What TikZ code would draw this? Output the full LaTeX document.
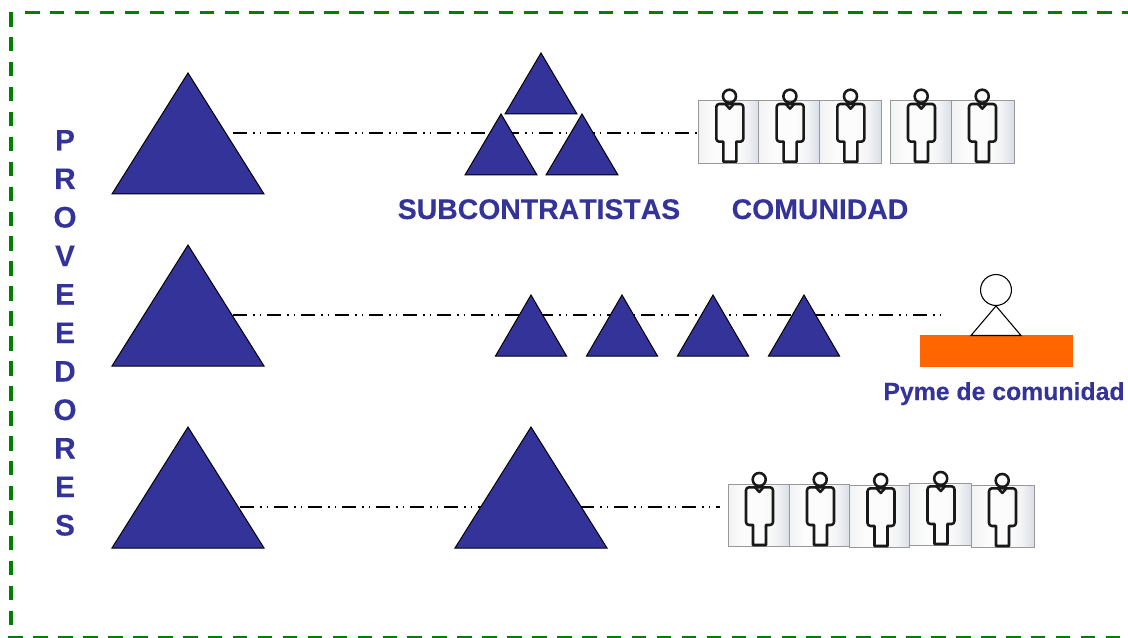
\documentclass[tikz,border=0pt]{standalone}
\usepackage{fontspec}
\setmainfont{Liberation Sans}
\newfontfamily\labelfont{Liberation Sans}[Kerning=Off,BoldFeatures={FakeBold=0.12}]
\definecolor{navy}{HTML}{333399}
\definecolor{pymeorange}{HTML}{FF6600}
\definecolor{framegreen}{HTML}{008000}
\definecolor{cardl}{HTML}{F1F2F3}
\definecolor{cardm}{HTML}{FCFCFC}
\definecolor{cardr2}{HTML}{F2F3F5}
\definecolor{cardr}{HTML}{DADEE6}
\pgfdeclarehorizontalshading{cardshade}{100bp}{
  color(0bp)=(cardl); color(25bp)=(cardl); color(38bp)=(cardm); color(55bp)=(cardm); color(65bp)=(cardr2); color(75bp)=(cardr); color(100bp)=(cardr)}
\tikzset{
  frameline/.style={framegreen,line width=2.4pt,dash pattern=on 10.9pt off 7.805pt},
  tribox/.style={fill=navy,draw=black,line width=0.75pt,line join=miter},
  link/.style={black,line width=1pt,dash pattern=on 10.5pt off 4.3pt on 1.4pt off 3.7pt on 1.4pt off 4.2pt},
  label/.style={text=navy,font=\labelfont\bfseries\fontsize{21.3}{24}\selectfont,anchor=base,inner sep=0pt},
  letter/.style={label,font=\labelfont\bfseries\fontsize{22.3}{24}\selectfont},
  card/.style={draw=black!40,line width=0.7pt,shading=cardshade},
  figure/.style={draw=black!90,line width=1.9pt,line join=round},
  plain/.style={draw=black,line width=0.8pt}
}
\newcommand{\tri}[5]{% name, cx, base y, half width, height
  \coordinate (#1) at (#2,#3);
  \path[tribox] (#2-#4,#3) -- (#2,#3-#5) -- (#2+#4,#3) -- cycle;
}
\newcommand{\person}[4]{% name, left, top, right
  \coordinate (#1) at (#2,#3);
  \begin{scope}[shift={(#2,#3)}]
    \path[card] (0,0) rectangle (#4-#2,62.5);
    \path[figure] (25,41) [rounded corners=2.2pt] -- (18,41) -- (18,3.3) -- (45,3.3) -- (45,41) [sharp corners] -- (38,41) -- (38,61) -- (25,61) -- cycle;
    \path[figure] (27,3.3) -- (31.3,8) -- (35.5,3.3);
    \path[figure] (31.2,-4.5) circle[radius=4.9pt];
  \end{scope}
}
\begin{document}
\begin{tikzpicture}[x=0.75pt,y=-0.75pt]
\useasboundingbox (0,0) rectangle (1128,638);
% frame
\draw[frameline] (11,12) -- (11,638);
\draw[frameline] (25,12.7) -- (1128,12.7);
\draw[frameline] (8.4,637.3) -- (1128,637.3);
% connector ends
\coordinate (a1) at (233,133);
\coordinate (b1) at (697,133);
\coordinate (a2) at (233,315);
\coordinate (b2) at (940,315);
\coordinate (a3) at (240,507);
\coordinate (b3) at (720,507);
\draw[link] (a1) -- (b1);
\draw[link] (a2) -- (b2);
\draw[link] (a3) -- (b3);
% large triangles
\tri{p1}{188}{194}{76}{121}
\tri{p2}{188}{366}{76}{121}
\tri{p3}{188}{548}{76}{121}
\tri{m3}{531}{548}{76}{121}
% subcontractors
\tri{s1}{541}{114}{36}{61}
\tri{s2}{501}{175}{36}{61}
\tri{s3}{582}{175}{36}{61}
% row two
\tri{r1}{531}{356}{35.5}{61}
\tri{r2}{622}{356}{35.5}{61}
\tri{r3}{713}{356}{35.5}{61}
\tri{r4}{804}{356}{35.5}{61}
% community row one
\person{c1}{698.3}{100.7}{758.7}
\person{c2}{758.7}{100.7}{819.3}
\person{c3}{819.3}{100.7}{881}
\person{c4}{890}{100.7}{951}
\person{c5}{951}{100.7}{1014}
% community row three
\person{d1}{728}{484}{789}
\person{d2}{789}{484}{849.5}
\person{d3}{849.5}{485}{909.5}
\person{d4}{909.5}{483}{971}
\person{d5}{971}{485}{1034}
% pyme
\fill[pymeorange] (919.5,335) rectangle (1072.5,366.7);
\draw[plain,fill=white] (971,335.5) -- (996,306) -- (1021,335.5) -- cycle;
\draw[plain,fill=white] (996,290) circle[radius=11.6pt];
% labels
\node[label] (sub) at (539,219) {SUBCONTRATISTAS};
\node[label] (com) at (820,219) {COMUNIDAD};
\node[label,font=\labelfont\bfseries\fontsize{18.6}{22}\selectfont] (pyme) at (1004,400) {Pyme de comunidad};
\node[letter] (l1) at (65,150.5) {P};
\node[letter] (l2) at (65,189) {R};
\node[letter] (l3) at (65,227.5) {O};
\node[letter] (l4) at (65,266) {V};
\node[letter] (l5) at (65,304.5) {E};
\node[letter] (l6) at (65,343) {E};
\node[letter] (l7) at (65,381.5) {D};
\node[letter] (l8) at (65,420) {O};
\node[letter] (l9) at (65,458.5) {R};
\node[letter] (l10) at (65,497) {E};
\node[letter] (l11) at (65,535.5) {S};
\end{tikzpicture}
\end{document}
